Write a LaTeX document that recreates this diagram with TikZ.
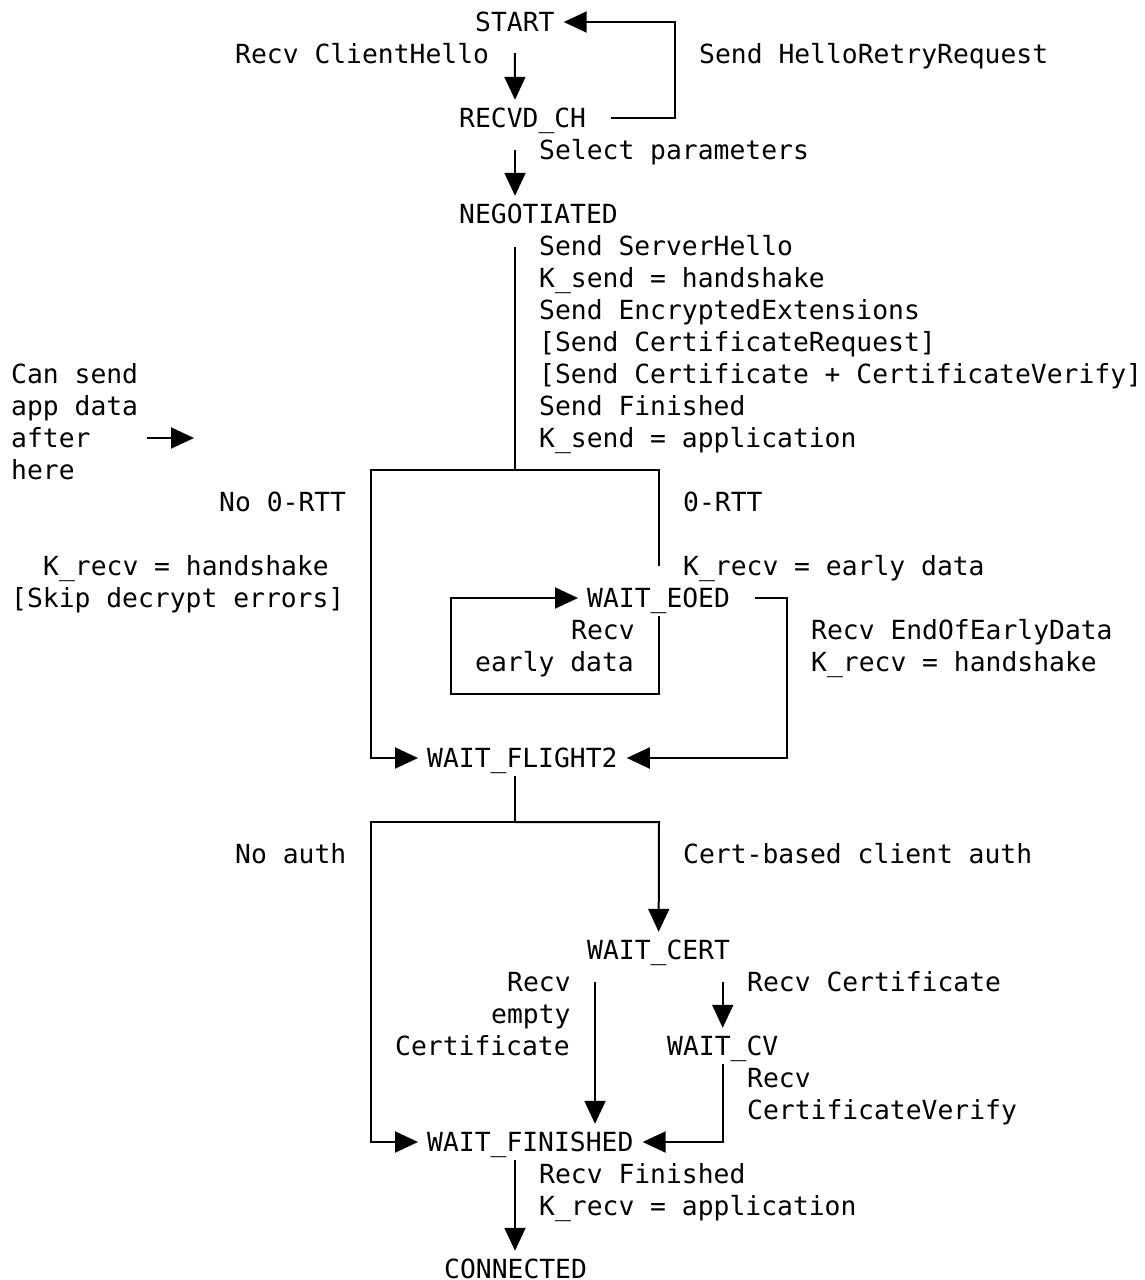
\documentclass[tikz,border=0pt]{standalone}
\usepackage{fontspec}
\setmonofont{DejaVu Sans Mono}
\usetikzlibrary{arrows.meta}

\tikzset{
  lbl/.style={anchor=west, inner sep=0pt, text height=20pt, text depth=1pt},
  state/.style={anchor=west, inner xsep=9pt, inner ysep=7.5pt, text height=20pt, text depth=1pt},
  wire/.style={line width=2pt},
  arr/.style={wire, -{Triangle[length=23pt,width=21pt]}}
}

\begin{document}
\begin{tikzpicture}[x=1pt, y=-1pt, every node/.style={font=\ttfamily\fontsize{26.35pt}{32pt}\selectfont}]
\useasboundingbox (0,0) rectangle (1145,1280);
% states
\node[state] (start)  at (466,22)   {START};
\node[state] (recvd)  at (450,118)  {RECVD\_CH};
\node[state] (nego)   at (450,214)  {NEGOTIATED};
\node[state] (eoed)   at (578,598)  {WAIT\_EOED};
\node[state] (flight) at (418,758)  {WAIT\_FLIGHT2};
\node[state] (cert)   at (578,950)  {WAIT\_CERT};
\node[state] (cv)     at (658,1046) {WAIT\_CV};
\node[state] (fin)    at (418,1142) {WAIT\_FINISHED};
\node[state] (conn)   at (435,1269) {CONNECTED};
% labels
\node[lbl] (ch)     at (235,54)  {Recv ClientHello};
\node[lbl] (hrrlbl) at (699,54)  {Send HelloRetryRequest};
\node[lbl] (sel)    at (539,150) {Select parameters};
\foreach \t [count=\i from 7] in {Send ServerHello, K\_send = handshake,
    Send EncryptedExtensions, {[Send CertificateRequest]},
    {[Send Certificate + CertificateVerify]}, Send Finished, K\_send = application}
  \node[lbl] (neg\i) at (539,{22+32*\i}) {\t};
\foreach \t [count=\i from 11] in {Can send, app data, after, here}
  \node[lbl] (note\i) at (11,{22+32*\i}) {\t};
\node[lbl] (nortt lbl)  at (219,502)  {No 0-RTT};
\node[lbl] (ortt lbl)   at (683,502)  {0-RTT};
\node[lbl] (hs lbl)     at (43,566)   {K\_recv = handshake};
\node[lbl] (skip lbl)   at (11,598)   {[Skip decrypt errors]};
\node[lbl] (early lbl)  at (683,566)  {K\_recv = early data};
\node[lbl] (rcv1)       at (571,630)  {Recv};
\node[lbl] (rcv2)       at (475,662)  {early data};
\node[lbl] (eoed lbl1)  at (811,630)  {Recv EndOfEarlyData};
\node[lbl] (eoed lbl2)  at (811,662)  {K\_recv = handshake};
\node[lbl] (noauth lbl) at (235,854)  {No auth};
\node[lbl] (auth lbl)   at (683,854)  {Cert-based client auth};
\node[lbl] (emp1)       at (507,982)  {Recv};
\node[lbl] (emp2)       at (491,1014) {empty};
\node[lbl] (emp3)       at (395,1046) {Certificate};
\node[lbl] (crt lbl)    at (747,982)  {Recv Certificate};
\node[lbl] (cv lbl1)    at (747,1078) {Recv};
\node[lbl] (cv lbl2)    at (747,1110) {CertificateVerify};
\node[lbl] (fin lbl1)   at (539,1174) {Recv Finished};
\node[lbl] (fin lbl2)   at (539,1206) {K\_recv = application};
% corners
\coordinate (trunk)    at (515,0);
\coordinate (hrr)      at (675,22);
\coordinate (split)    at (515,470);
\coordinate (nortt)    at (371,470);
\coordinate (ortt)     at (659,470);
\coordinate (ortt end) at (659,566);
\coordinate (loop)     at (451,694);
\coordinate (eoed out) at (787,758);
\coordinate (split2)   at (515,822);
\coordinate (noauth)   at (371,822);
\coordinate (certauth) at (659,822);
\coordinate (empty)    at (595,0);
\coordinate (app from) at (147,438);
\coordinate (app to)   at (194,438);
% connectors
\draw[arr] ([yshift=-13pt]start.south) -- (recvd.north -| trunk);
\draw[arr] ([xshift=16pt]recvd.east) -| (hrr) -- (start.east);
\draw[arr] ([yshift=-14pt]recvd.south -| trunk) -- (nego.north -| trunk);
\draw[wire] ([yshift=-15pt]nego.south -| trunk) -- (split);
\draw[arr] (split) -- (nortt) |- (flight.west);
\draw[wire] (split) -- (ortt) -- (ortt end);
\draw[arr] (eoed.south -| ortt) |- (loop) |- (eoed.west);
\draw[arr] ([xshift=16pt]eoed.east) -| (eoed out) -- (flight.east);
\draw[wire] (flight.south -| trunk) -- (split2);
\draw[arr] (split2) -- (certauth) -- (cert);
\draw[arr] (split2) -- (noauth) |- (fin.west);
\draw[arr] ([yshift=-14pt]cert.south -| empty) -- (fin.north -| empty);
\draw[arr] ([yshift=-14pt]cert.south -| cv) -- (cv);
\draw[arr] (cv.south) |- (fin.east);
\draw[arr] (fin.south -| trunk) -- (conn.north -| trunk);
\draw[arr] (app from) -- (app to);
\end{tikzpicture}
\end{document}
